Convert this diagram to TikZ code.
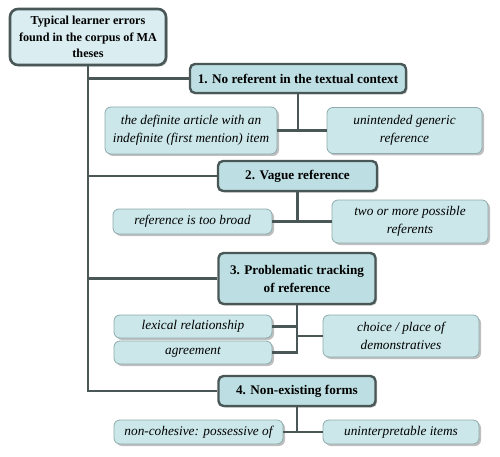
\documentclass[tikz,border=0pt]{standalone}
\usepackage{fontspec}
\setmainfont{Liberation Serif}
\usetikzlibrary{shadows}
\definecolor{rootfill}{HTML}{DAEEF2}
\definecolor{lvlfill}{HTML}{BDDFE3}
\definecolor{subfill}{HTML}{CBE7EA}
\definecolor{edgecol}{HTML}{4A5757}
\definecolor{subedge}{HTML}{8DAAAD}
\tikzset{
  rootbox/.style={draw=edgecol, line width=2.6pt, fill=rootfill, rounded corners=8pt,
    align=center, font=\bfseries\fontsize{12.2}{16.5}\selectfont, inner sep=1pt,
    drop shadow={shadow xshift=1.5pt, shadow yshift=-1.5pt, fill=black, opacity=0.25}},
  lvlbox/.style={draw=edgecol, line width=2.4pt, fill=lvlfill, rounded corners=5pt,
    align=center, font=\bfseries\fontsize{13.2}{18}\selectfont, inner sep=1pt,
    drop shadow={shadow xshift=1.5pt, shadow yshift=-1.5pt, fill=black, opacity=0.25}},
  subbox/.style={draw=subedge, line width=0.8pt, fill=subfill, rounded corners=6pt,
    align=center, font=\itshape\fontsize{13.3}{18}\selectfont, inner sep=1pt,
    drop shadow={shadow xshift=2pt, shadow yshift=-2pt, fill=black, opacity=0.25}},
  conn/.style={draw=edgecol, line width=2.5pt}
}
\begin{document}
\begin{tikzpicture}[x=1pt,y=-1pt]
\useasboundingbox (0,0) rectangle (500,457);
\node[rootbox, minimum width=156pt, minimum height=56pt] (root) at (88,37)
  {Typical learner errors\\found in the corpus of MA\\theses};
% level 1
\node[lvlbox, minimum width=216pt, minimum height=29pt] (b1) at (298,78.5)
  {1. No referent in the textual context};
\node[subbox, minimum width=172pt, minimum height=47pt] (s1a) at (191,130.5)
  {the definite article with an\\indefinite (first mention) item};
\node[subbox, minimum width=155pt, minimum height=46pt] (s1b) at (404.5,130.5)
  {unintended generic\\reference};
% level 2
\node[lvlbox, minimum width=159pt, minimum height=30pt] (b2) at (297.5,176)
  {2. Vague reference};
\node[subbox, minimum width=159pt, minimum height=25pt] (s2a) at (192.5,221.5)
  {reference is too broad};
\node[subbox, minimum width=156pt, minimum height=43pt] (s2b) at (410,221.5)
  {two or more possible\\referents};
% level 3
\node[lvlbox, minimum width=157pt, minimum height=51pt] (b3) at (297,278.5)
  {3. Problematic tracking\\of reference};
\node[subbox, minimum width=158pt, minimum height=23pt] (s3a) at (193,326.5)
  {lexical relationship};
\node[subbox, minimum width=158pt, minimum height=23pt] (s3b) at (193,352.5)
  {agreement};
\node[subbox, minimum width=156pt, minimum height=42pt] (s3c) at (401,336)
  {choice / place of\\demonstratives};
% level 4
\node[lvlbox, minimum width=157pt, minimum height=30pt] (b4) at (297,391)
  {4. Non-existing forms};
\node[subbox, minimum width=169pt, minimum height=24pt] (s4a) at (198.5,432)
  {non-cohesive: possessive of};
\node[subbox, minimum width=156pt, minimum height=24pt] (s4b) at (401,432)
  {uninterpretable items};
% trunk connectors
\draw[conn] (root.south) |- (b1.west);
\draw[conn] (root.south) |- (b2.west);
\draw[conn] (root.south) |- (b3.west);
\draw[conn] (root.south) |- (b4.west);
% level 1 connectors
\draw[conn] (b1.south) -- (b1.south |- s1a.east);
\draw[conn] (s1a.east) -- (s1b.west);
% level 2
\draw[conn] (b2.south) -- (b2.south |- s2a.east);
\draw[conn] (s2a.east) -- (s2b.west);
% level 3
\draw[conn] (b3.south) -- (b3.south |- s3b.east) -- (s3b.east);
\draw[conn] (s3a.east) -- (s3a.east -| b3.south);
\draw[conn] (s3c.west) -- (s3c.west -| b3.south);
% level 4
\draw[conn] (b4.south) -- (b4.south |- s4a.east);
\draw[conn] (s4a.east) -- (s4b.west);
\end{tikzpicture}
\end{document}
